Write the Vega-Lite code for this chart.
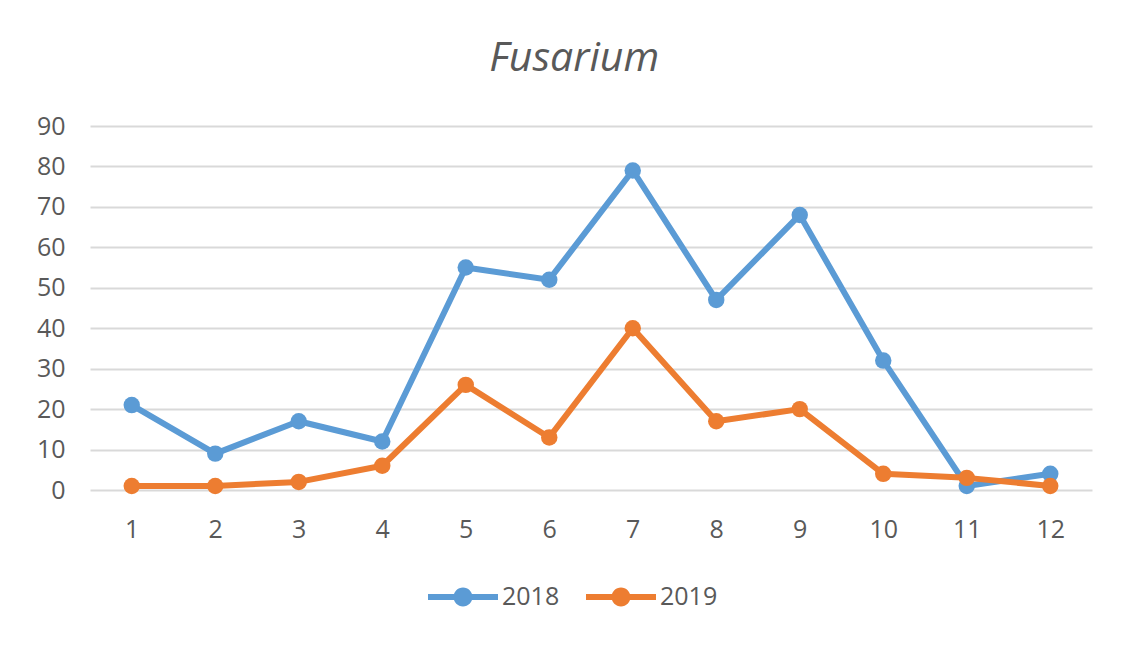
{
  "$schema": "https://vega.github.io/schema/vega-lite/v6.json",
  "autosize": {"type": "none"},
  "padding": {"left": 90, "top": 126, "right": 40, "bottom": 156},
  "width": 1002,
  "height": 364,
  "background": "white",
  "title": {
    "text": "Fusarium",
    "font": "Open Sans",
    "fontStyle": "italic",
    "fontWeight": "normal",
    "fontSize": 41,
    "color": "#595959",
    "frame": "bounds",
    "dx": 10,
    "offset": 34
  },
  "data": {
    "values": [
      {"month": 1, "year": "2018", "count": 21},
      {"month": 2, "year": "2018", "count": 9},
      {"month": 3, "year": "2018", "count": 17},
      {"month": 4, "year": "2018", "count": 12},
      {"month": 5, "year": "2018", "count": 55},
      {"month": 6, "year": "2018", "count": 52},
      {"month": 7, "year": "2018", "count": 79},
      {"month": 8, "year": "2018", "count": 47},
      {"month": 9, "year": "2018", "count": 68},
      {"month": 10, "year": "2018", "count": 32},
      {"month": 11, "year": "2018", "count": 1},
      {"month": 12, "year": "2018", "count": 4},
      {"month": 1, "year": "2019", "count": 1},
      {"month": 2, "year": "2019", "count": 1},
      {"month": 3, "year": "2019", "count": 2},
      {"month": 4, "year": "2019", "count": 6},
      {"month": 5, "year": "2019", "count": 26},
      {"month": 6, "year": "2019", "count": 13},
      {"month": 7, "year": "2019", "count": 40},
      {"month": 8, "year": "2019", "count": 17},
      {"month": 9, "year": "2019", "count": 20},
      {"month": 10, "year": "2019", "count": 4},
      {"month": 11, "year": "2019", "count": 3},
      {"month": 12, "year": "2019", "count": 1}
    ]
  },
  "encoding": {
    "x": {
      "field": "month",
      "type": "ordinal",
      "scale": {"type": "point", "padding": 0.5},
      "axis": {
        "title": null,
        "labelAngle": 0,
        "ticks": false,
        "tickSize": 0,
        "domain": false,
        "grid": false,
        "labelPadding": 27,
        "labelFont": "Open Sans",
        "labelFontSize": 25,
        "labelColor": "#595959"
      }
    },
    "y": {
      "field": "count",
      "type": "quantitative",
      "scale": {"domain": [0, 90], "nice": false},
      "axis": {
        "title": null,
        "values": [0, 10, 20, 30, 40, 50, 60, 70, 80, 90],
        "ticks": false,
        "tickSize": 0,
        "domain": false,
        "grid": true,
        "gridColor": "#d9d9d9",
        "gridWidth": 2,
        "labelPadding": 25,
        "labelFont": "Open Sans",
        "labelFontSize": 25,
        "labelColor": "#595959"
      }
    },
    "color": {
      "field": "year",
      "type": "nominal",
      "scale": {"domain": ["2018", "2019"], "range": ["#5B9BD5", "#ED7D31"]},
      "legend": {
        "title": null,
        "orient": "none",
        "direction": "horizontal",
        "legendX": 338,
        "legendY": 436,
        "symbolType": "M -1 -0.085 L 1 -0.085 L 1 0.085 L -1 0.085 Z M 0.27 0 A 0.27 0.27 0 1 1 -0.27 0 A 0.27 0.27 0 1 1 0.27 0 Z",
        "symbolSize": 4900,
        "symbolStrokeWidth": 0,
        "labelFont": "Open Sans",
        "labelFontSize": 25,
        "labelColor": "#595959",
        "labelOffset": 4,
        "columnPadding": 26
      }
    }
  },
  "layer": [
    {"mark": {"type": "line", "strokeWidth": 6, "strokeCap": "round", "strokeJoin": "round"}},
    {"mark": {"type": "point", "filled": true, "opacity": 1, "size": 270}}
  ],
  "config": {"view": {"stroke": null}}
}
